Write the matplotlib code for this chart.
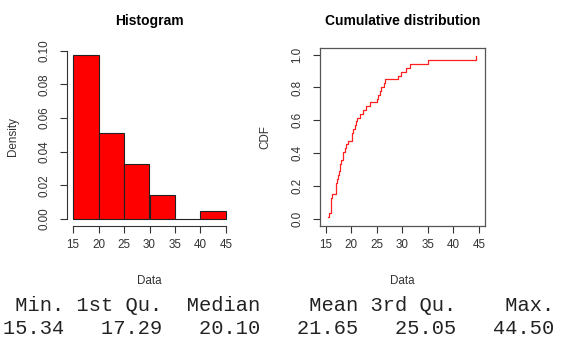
import numpy as np
import matplotlib
matplotlib.use("Agg")
import matplotlib.pyplot as plt

# sample (43 points)
data = [15.34, 15.63, 15.96, 16.01, 16.06, 16.11, 16.16,
        16.93, 17.00, 17.08, 17.10, 17.48,
        17.63, 17.80, 17.86, 17.93, 18.28, 18.38, 18.78, 18.98, 19.38,
        20.10, 20.20, 20.23, 20.68, 20.98, 21.18, 21.78, 22.38, 22.79, 23.58, 24.95,
        25.15, 25.58, 25.78, 26.38, 26.68, 29.08, 29.78,
        30.73, 31.58, 34.98, 44.50]
breaks = [15, 20, 25, 30, 35, 40, 45]
x_ticks = [15, 20, 25, 30, 35, 40, 45]
hist_yticks = [0.00, 0.02, 0.04, 0.06, 0.08, 0.10]
cdf_yticks = [0.0, 0.2, 0.4, 0.6, 0.8, 1.0]
stat_names = ["Min.", "1st Qu.", "Median", "Mean", "3rd Qu.", "Max."]

plt.rcParams['font.family'] = ['Liberation Sans', 'DejaVu Sans']
W, H = 564, 340
fig = plt.figure(figsize=(W / 100, H / 100), dpi=100)

AX_COL = '#333333'
top_px, bot_px = 48, 225.5


def make_axes(left_px, right_px):
    return fig.add_axes([left_px / W, 1 - bot_px / H,
                         (right_px - left_px) / W, (bot_px - top_px) / H])


def style(ax):
    ax.tick_params(direction='out', length=5, width=0.8, color=AX_COL,
                   labelcolor=AX_COL, labelsize=8.4)
    ax.tick_params(axis='x', pad=5)
    ax.tick_params(axis='y', pad=7)
    for lab in ax.get_yticklabels():
        lab.set_rotation(90)
        lab.set_va('center')
    ax.xaxis.set_label_coords(0.5, -0.279)
    ax.yaxis.set_label_coords(-0.29, 0.5)


# ---- histogram ----
ax1 = make_axes(66.9, 232.1)
ax1.hist(data, bins=breaks, density=True, color='red', edgecolor='#222222', linewidth=0.8)
dens, _ = np.histogram(data, bins=breaks, density=True)
ymax = dens.max()
ax1.set_xlim(13.8, 46.2)
ax1.set_ylim(-0.04 * ymax, 1.04 * ymax)
ax1.set_xticks(x_ticks)
ax1.set_yticks(hist_yticks)
ax1.set_yticklabels([f"{v:.2f}" for v in hist_yticks])
for s in ['top', 'right']:
    ax1.spines[s].set_visible(False)
for s in ['left', 'bottom']:
    ax1.spines[s].set_color(AX_COL)
    ax1.spines[s].set_linewidth(0.8)
ax1.spines['left'].set_bounds(hist_yticks[0], hist_yticks[-1])
ax1.spines['bottom'].set_bounds(x_ticks[0], x_ticks[-1])
ax1.set_xlabel('Data', fontsize=8.4, color=AX_COL)
ax1.set_ylabel('Density', fontsize=8.4, color=AX_COL)
ax1.set_title('Histogram', fontsize=10, fontweight='bold', y=1.152, va='center', pad=0)
style(ax1)

# ---- cumulative distribution (ppoints positions, step plot) ----
ax2 = make_axes(319.7, 485)
s = np.sort(data)
n = len(s)
obsp = (np.arange(1, n + 1) - 0.5) / n
ax2.plot(s, obsp, drawstyle='steps-post', color='#ff2020', linewidth=0.9)
ax2.set_xlim(13.8, 46.2)
ax2.set_ylim(-0.04, 1.04)
ax2.set_xticks(x_ticks)
ax2.set_yticks(cdf_yticks)
ax2.set_yticklabels([f"{v:.1f}" for v in cdf_yticks])
for sp in ax2.spines.values():
    sp.set_color('#555555')
    sp.set_linewidth(0.9)
ax2.set_xlabel('Data', fontsize=8.4, color=AX_COL)
ax2.set_ylabel('CDF', fontsize=8.4, color=AX_COL)
ax2.set_title('Cumulative distribution', fontsize=10, fontweight='bold', y=1.152,
              va='center', pad=0)
style(ax2)

# ---- summary printout (R style: common column width) ----
vals = [s.min(), np.percentile(s, 25), np.median(s), s.mean(), np.percentile(s, 75), s.max()]
val_str = [f"{v:.2f}" for v in vals]
w = max(len(t) for t in stat_names + val_str)
line1 = " ".join(name.rjust(w) for name in stat_names)
line2 = " ".join(v.rjust(w) for v in val_str)
lead = min(len(line1) - len(line1.lstrip()), len(line2) - len(line2.lstrip()))
line1, line2 = line1[lead:], line2[lead:]
fig.text(3 / W, 1 - 311 / H, line1, family='Liberation Mono', fontsize=14.7,
         color='#222222', ha='left', va='baseline')
fig.text(3 / W, 1 - 334 / H, line2, family='Liberation Mono', fontsize=14.7,
         color='#222222', ha='left', va='baseline')

fig.savefig('out.png', dpi=100)
